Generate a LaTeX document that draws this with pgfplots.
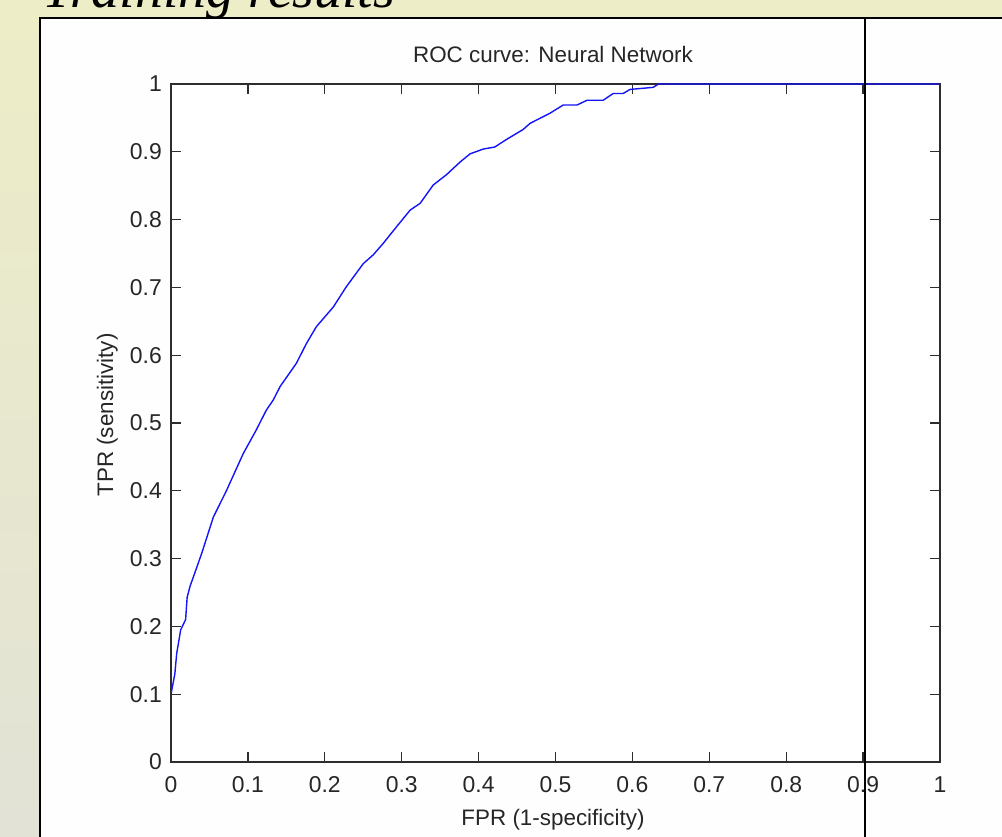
\documentclass[border=0pt]{standalone}
\usepackage{pgfplots}
\pgfplotsset{compat=1.18}
\usepackage{fontspec}
\setmainfont{Liberation Sans}
\newfontfamily\serifit{Liberation Serif}
\definecolor{bgtop}{RGB}{237,237,199}
\definecolor{bgbot}{RGB}{226,226,214}
\definecolor{axcol}{RGB}{45,45,45}
\definecolor{curve}{RGB}{20,20,250}
\begin{document}
\begin{tikzpicture}[x=1bp,y=1bp]
\useasboundingbox (0,0) rectangle (1002,837);
\clip (0,0) rectangle (1002,837);
\shade[top color=bgtop, bottom color=bgbot] (0,0) rectangle (1002,837);
\fill[white!99.5!black] (40,0) rectangle (1002,819);
\draw[line width=2.5bp, black] (40,0) -- (40,819) -- (1002,819);
\node[anchor=base west, inner sep=0] at (42,829) {\fontsize{56}{60}\selectfont\serifit\itshape Training results};
\begin{axis}[
  at={(171bp,75bp)}, anchor=south west,
  scale only axis, width=769bp, height=678bp,
  xmin=0, xmax=1, ymin=0, ymax=1,
  xtick={0,0.1,0.2,0.3,0.4,0.5,0.6,0.7,0.8,0.9,1},
  ytick={0,0.1,0.2,0.3,0.4,0.5,0.6,0.7,0.8,0.9,1},
  xticklabels={0,0.1,0.2,0.3,0.4,0.5,0.6,0.7,0.8,0.9,1},
  yticklabels={0,0.1,0.2,0.3,0.4,0.5,0.6,0.7,0.8,0.9,1},
  tick align=inside, major tick length=10bp,
  axis line style={line width=1.3bp, axcol},
  every tick/.style={line width=1.3bp, axcol},
  ticklabel style={font=\fontsize{23}{25}\selectfont, text=black!85, inner sep=0},
  xticklabel style={anchor=base, yshift=-31bp},
  yticklabel style={anchor=east, xshift=-9bp},
  /pgf/number format/assume math mode=true,
  axis background/.style={fill=white},
]
\addplot[curve, line width=1.4bp] coordinates {
(0,0) (0,0.1) (0.005,0.13) (0.0074,0.16) (0.0126,0.195) (0.019,0.21)
(0.021,0.243) (0.025,0.26) (0.031,0.279) (0.040,0.308) (0.055,0.361)
(0.072,0.40) (0.094,0.455) (0.111,0.49) (0.124,0.519) (0.133,0.534)
(0.142,0.554) (0.163,0.588) (0.176,0.617) (0.189,0.642) (0.211,0.671)
(0.228,0.701) (0.250,0.735) (0.263,0.748) (0.276,0.765) (0.293,0.789)
(0.311,0.814) (0.324,0.824) (0.341,0.851) (0.358,0.866) (0.376,0.885)
(0.389,0.897) (0.406,0.904) (0.421,0.907) (0.436,0.918) (0.458,0.933)
(0.467,0.942) (0.493,0.957) (0.510,0.969) (0.528,0.969) (0.541,0.976)
(0.562,0.976) (0.575,0.986) (0.588,0.986) (0.597,0.992) (0.627,0.995)
(0.634,1.0) (1,1)
};
\end{axis}
\node[anchor=base, inner sep=0, text=black!85] at (553,774) {\fontsize{22.5}{24}\selectfont ROC curve: Neural Network};
\node[anchor=base, inner sep=0, text=black!85] at (553,11) {\fontsize{22.5}{24}\selectfont FPR (1-specificity)};
\node[anchor=base, rotate=90, inner sep=0, text=black!85] at (113,422) {\fontsize{22.5}{24}\selectfont TPR (sensitivity)};
\draw[line width=2.5bp, black] (865,0) -- (865,819);
\end{tikzpicture}
\end{document}
